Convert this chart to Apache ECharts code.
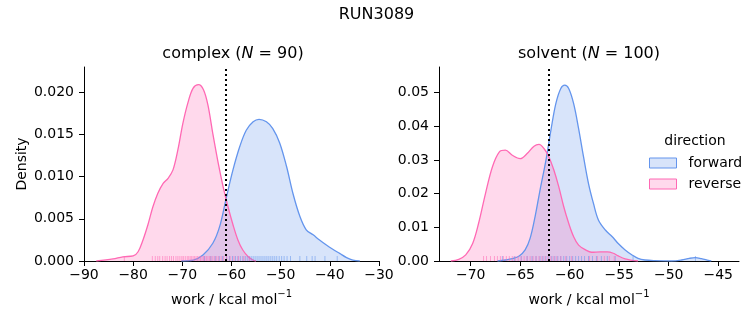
<!DOCTYPE html>
<html><head><meta charset="utf-8">
<script src="https://cdn.jsdelivr.net/npm/echarts@6/dist/echarts.min.js"></script>
<style>html,body{margin:0;padding:0;background:#fff}#c{width:753px;height:325px}</style>
</head><body><div id="c"></div>
<script>
// ---- data ----
const suptitle = 'RUN3089';
const legendNames = ['forward', 'reverse'];
// complex panel KDE
const cFwdX = [-70.2,-67.8,-65.8,-63.8,-62.4,-61.1,-59.7,-58.3,-57.0,-55.6,-54.4,-52.9,-51.6,-50.2,-48.8,-47.5,-46.1,-44.8,-43.4,-42.1,-40.7,-39.4,-38.0,-36.6,-35.3,-33.9];
const cFwdY = [0,0.0001,0.0007,0.0021,0.0041,0.0074,0.0108,0.0136,0.0155,0.0165,0.0168,0.0165,0.0157,0.0140,0.0112,0.0080,0.0053,0.0037,0.0031,0.0025,0.0019,0.0014,0.0009,0.0004,0.0001,0];
const cRevX = [-87.5,-84.1,-82.1,-80.0,-79.0,-78.0,-77.0,-76.0,-75.0,-73.9,-72.9,-71.9,-70.9,-69.9,-68.8,-67.8,-66.7,-65.7,-64.8,-63.8,-62.7,-61.7,-60.7,-59.7,-58.7,-57.7,-56.6,-55.6,-55.0];
const cRevY = [0,0.00024,0.0005,0.0006,0.0011,0.0025,0.0043,0.0064,0.0080,0.0092,0.0098,0.0108,0.0132,0.0163,0.0189,0.0205,0.0209,0.0203,0.0185,0.0151,0.0116,0.0088,0.0064,0.0043,0.0025,0.0013,0.0005,0.0001,0];
const cFwdRug = [-65.5,-64.2,-63.3,-62.5,-61.8,-61.0,-60.4,-59.8,-59.2,-58.7,-58.2,-57.7,-57.2,-56.8,-56.4,-56.0,-55.6,-55.2,-54.8,-54.4,-54.0,-53.6,-53.2,-52.8,-52.4,-52.0,-51.6,-51.2,-50.8,-50.3,-49.8,-49.3,-48.7,-48.0,-46.1,-44.7,-43.6,-43.0,-41.0,-38.5];
const cRevRug = [-81.8,-76.1,-75.5,-75.0,-74.6,-74.0,-73.5,-73.1,-72.6,-72.2,-71.8,-71.3,-70.9,-70.5,-70.1,-69.8,-69.4,-69.0,-68.7,-68.4,-68.1,-67.8,-67.5,-67.2,-66.9,-66.6,-66.3,-66.0,-65.7,-65.4,-65.1,-64.8,-64.5,-64.2,-63.8,-63.4,-63.0,-62.6,-62.1,-61.6,-61.0,-60.3,-59.5,-58.6,-57.5,-56.4];
const cLine = -61.2;
// solvent panel KDE
const sFwdX = [-67.3,-66.5,-65.8,-65.1,-64.5,-64.0,-63.5,-63.0,-62.4,-61.9,-61.4,-60.9,-60.5,-60.1,-59.6,-59.1,-58.6,-58.1,-57.6,-57.1,-56.4,-55.7,-55.1,-54.4,-53.7,-53.1,-52.4,-51.4,-49.7,-48.7,-47.9,-47.3,-46.7,-46.0,-45.7];
const sFwdY = [0,0.0003,0.0007,0.0015,0.0033,0.0067,0.0131,0.0210,0.0299,0.0388,0.0467,0.0512,0.0522,0.0512,0.0467,0.0393,0.0309,0.0230,0.0171,0.0122,0.0092,0.0072,0.0052,0.0033,0.0018,0.0008,0.0003,0.0001,0,0.0003,0.0008,0.0010,0.0007,0.0002,0];
const sRevX = [-72.0,-71.2,-70.5,-69.8,-69.2,-68.5,-67.8,-67.1,-66.5,-65.8,-65.0,-64.3,-63.6,-63.1,-62.6,-62.1,-61.6,-61.1,-60.6,-60.1,-59.6,-59.1,-58.4,-57.8,-56.9,-56.2,-55.6,-55.1,-54.4,-53.7,-53.1];
const sRevY = [0,0.0005,0.0018,0.0052,0.0112,0.0201,0.0280,0.0324,0.0329,0.0314,0.0304,0.0319,0.0341,0.0346,0.0334,0.0309,0.0270,0.0220,0.0161,0.0112,0.0072,0.0047,0.0033,0.0026,0.0027,0.0027,0.0023,0.0015,0.0006,0.0002,0];
const sFwdRug = [-66.8,-65.6,-64.9,-64.3,-63.8,-63.4,-63.0,-62.7,-62.4,-62.1,-61.8,-61.5,-61.2,-60.9,-60.6,-60.3,-60.0,-59.7,-59.4,-59.1,-58.8,-58.5,-58.1,-57.7,-57.3,-56.8,-56.2,-55.4,-53.6,-47.3];
const sRevRug = [-68.7,-68.4,-68.0,-67.6,-67.3,-67.0,-66.7,-66.4,-66.1,-65.8,-65.5,-65.2,-64.9,-64.6,-64.3,-64.0,-63.7,-63.4,-63.1,-62.8,-62.5,-62.2,-61.9,-61.6,-61.3,-60.9,-60.4,-59.8,-58.0,-57.2,-56.5,-56.0,-55.5];
const sLine = -62.1;
// axes
const cXTicks = [-90,-80,-70,-60,-50,-40,-30];
const cYTicks = [0,0.005,0.010,0.015,0.020];
const sXTicks = [-70,-65,-60,-55,-50,-45];
const sYTicks = [0,0.01,0.02,0.03,0.04,0.05];
const cXRange = [-90,-30], cYMax = 0.0230;
const sXRange = [-73.2,-42.9], sYMax = 0.0576;

// ---- styling ----
const FONT = 'DejaVu Sans';
const BLUE = '#6495ED', PINK = '#FF69B4';
const zip = (a,b) => a.map((v,i)=>[v,b[i]]);
const minus = v => (v<0?'\u2212':'') + Math.abs(v);

function xAxis(gi, range, ticks){
  return {gridIndex:gi, type:'value', min:range[0], max:range[1],
    axisLine:{show:true,onZero:false,lineStyle:{color:'#000',width:1}},
    axisTick:{show:true,length:5,customValues:ticks,lineStyle:{color:'#000',width:1}},
    axisLabel:{customValues:ticks,formatter:v=>minus(v),color:'#000',fontFamily:FONT,fontSize:14,margin:7},
    splitLine:{show:false},
    name:'{a|work / kcal mol}{s|\u22121}', nameLocation:'middle', nameGap:28,
    nameTextStyle:{color:'#000',fontFamily:FONT,fontSize:14,
      rich:{a:{fontFamily:FONT,fontSize:14,color:'#000',lineHeight:18,verticalAlign:'bottom'},
            s:{fontFamily:FONT,fontSize:10,color:'#000',lineHeight:18,verticalAlign:'top',padding:[0,0,0,0]}}}};
}
function yAxis(gi, max, ticks, dec, name){
  return {gridIndex:gi, type:'value', min:0, max:max,
    axisLine:{show:true,lineStyle:{color:'#000',width:1}},
    axisTick:{show:true,length:5,customValues:ticks,lineStyle:{color:'#000',width:1}},
    axisLabel:{customValues:ticks,formatter:v=>v.toFixed(dec),color:'#000',fontFamily:FONT,fontSize:14,margin:10},
    splitLine:{show:false},
    name:name, nameLocation:'middle', nameGap:55,
    nameTextStyle:{color:'#000',fontFamily:FONT,fontSize:14}};
}
function kde(name, gi, xs, ys, color){
  return {name:name, type:'line', xAxisIndex:gi, yAxisIndex:gi, data:zip(xs,ys),
    smooth:0.35, symbol:'none', showSymbol:false, silent:true,
    lineStyle:{color:color,width:1.3}, itemStyle:{color:color},
    areaStyle:{color:color,opacity:0.25}};
}
function rug(name, gi, vals, color){
  return {name:name, type:'scatter', xAxisIndex:gi, yAxisIndex:gi, data:vals.map(v=>[v,0]),
    symbol:'rect', symbolSize:[1,5], symbolOffset:[0,-2.5], silent:true, clip:false,
    itemStyle:{color:color,opacity:0.55}, z:3};
}
function vline(gi, v){
  return {name:'vline'+gi, type:'line', xAxisIndex:gi, yAxisIndex:gi, data:[], silent:true,
    markLine:{silent:true, symbol:'none', label:{show:false}, animation:false,
      lineStyle:{color:'#000',width:2,type:[2,3]}, data:[{xAxis:v}]}, z:5};
}
const titleRich = {a:{fontFamily:FONT,fontSize:16,fontWeight:'normal',color:'#000'}, i:{fontFamily:FONT,fontSize:16,fontWeight:'normal',fontStyle:'italic',color:'#000'}};

const option = {
  animation:false,
  title:[
    {text:suptitle, left:'center', top:2, textStyle:{fontFamily:FONT,fontSize:16,fontWeight:'normal',color:'#000'}},
    {text:'{a|complex (}{i|N}{a| = 90)}', left:233, top:46, textAlign:'center', padding:0, textStyle:{fontWeight:'normal',rich:titleRich}},
    {text:'{a|solvent (}{i|N}{a| = 100)}', left:589, top:46, textAlign:'center', padding:0, textStyle:{fontWeight:'normal',rich:titleRich}},
    {text:'direction', left:695, top:134, textAlign:'center', padding:0, textStyle:{fontFamily:FONT,fontSize:14,fontWeight:'normal',color:'#000'}}
  ],
  legend:{orient:'vertical', left:649, top:156, itemWidth:27, itemHeight:10, itemGap:7, icon:'rect', padding:0,
    selectedMode:false,
    textStyle:{fontFamily:FONT,fontSize:14,color:'#000',padding:[0,0,0,7]},
    data:[
      {name:legendNames[0], itemStyle:{color:'rgba(100,149,237,0.25)',borderColor:BLUE,borderWidth:1}},
      {name:legendNames[1], itemStyle:{color:'rgba(255,105,180,0.25)',borderColor:PINK,borderWidth:1}}
    ]},
  grid:[
    {left:84, top:67, width:295, height:194},
    {left:439, top:67, width:300, height:194}
  ],
  xAxis:[xAxis(0,cXRange,cXTicks), xAxis(1,sXRange,sXTicks)],
  yAxis:[yAxis(0,cYMax,cYTicks,3,'Density'), yAxis(1,sYMax,sYTicks,2,'')],
  series:[
    kde('forward',0,cFwdX,cFwdY,BLUE),
    kde('reverse',0,cRevX,cRevY,PINK),
    rug('fwdrug0',0,cFwdRug,BLUE),
    rug('revrug0',0,cRevRug,PINK),
    vline(0,cLine),
    kde('forward',1,sFwdX,sFwdY,BLUE),
    kde('reverse',1,sRevX,sRevY,PINK),
    rug('fwdrug1',1,sFwdRug,BLUE),
    rug('revrug1',1,sRevRug,PINK),
    vline(1,sLine)
  ]
};
const chart = echarts.init(document.getElementById('c'), null, {renderer:'canvas'});
chart.setOption(option);
</script></body></html>
